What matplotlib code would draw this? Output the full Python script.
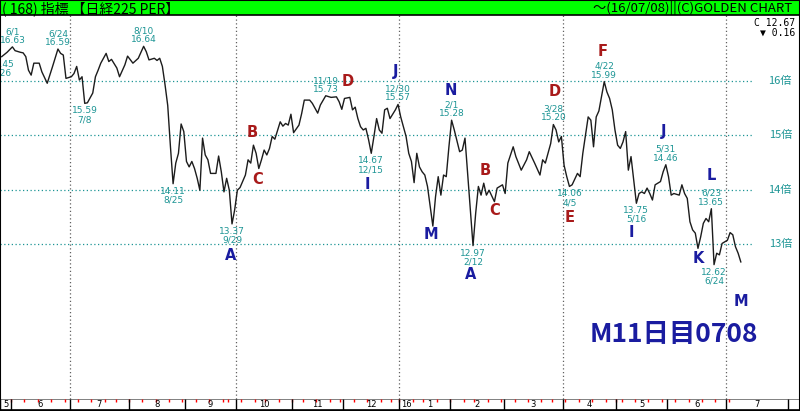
import matplotlib
matplotlib.use("Agg")
import matplotlib.pyplot as plt
from matplotlib import font_manager as fm
from matplotlib.patches import Rectangle
import pandas as pd


# Tokyo exchange calendar used for the session index
cal_start = "2015-05-26"
cal_end = "2016-08-31"
jp_holidays = [
    "2015-07-20", "2015-09-21", "2015-09-22", "2015-09-23", "2015-10-12",
    "2015-11-03", "2015-11-23", "2015-12-23", "2015-12-31", "2016-01-01",
    "2016-01-11", "2016-02-11", "2016-03-21", "2016-04-29", "2016-05-03",
    "2016-05-04", "2016-05-05", "2016-07-18", "2016-08-11",
]

# Nikkei 225 PER, session index (0 = 2015-05-26) and value
days = [
    0, 2, 4, 5, 7, 8, 9, 10, 11, 12, 14, 15, 17, 19, 21, 22, 23, 24,
    26, 27, 28, 29, 30, 31, 32, 34, 35, 36, 37, 39, 40, 41, 43, 44, 46, 47,
    49, 51, 53, 54, 55, 57, 58, 59, 60, 61, 62, 63, 64, 65, 66, 67, 68,
    69, 70, 71, 72, 73, 74, 75, 76, 77, 78, 80, 81, 82, 83, 84, 85, 86, 87,
    88, 89, 91, 92, 93, 94, 95, 96, 97, 98, 99, 100, 101, 102, 104, 105, 106, 107, 108,
    109, 111, 112, 113, 115, 116, 118, 119, 121, 123, 125, 126, 127,
    128, 130, 131, 132, 133, 134, 135, 136, 137, 138, 139, 140, 141, 142, 143, 144, 145, 147, 148,
    149, 150, 151, 152, 153, 154, 155, 156, 157, 158, 159, 160, 161, 162, 163, 164, 165, 166, 167,
    168, 169, 171, 172, 173, 174, 175, 176, 177, 178, 179, 180, 181, 182, 184, 185, 187,
    188, 189, 191, 192, 194, 196, 197, 199, 201, 202, 203, 205, 206, 207, 208, 209,
    210, 211, 212, 213, 215, 216, 217, 219, 220, 221, 222, 223, 225, 226, 227, 228, 229,
    230, 231, 232, 233, 234, 235, 236, 237, 238, 239, 240, 241, 242, 243, 244, 246, 247, 248,
    249, 250, 251, 253, 254, 255, 256, 257, 258, 259, 260, 261, 262, 263, 264, 265, 266,
    267, 268, 269, 270, 271, 272, 273, 274, 275, 276,
]
per = [
    16.45, 16.53, 16.63, 16.56, 16.53, 16.52, 16.45, 16.20, 16.11, 16.33, 16.33, 16.17, 15.96, 16.27, 16.59, 16.51, 16.48, 16.05,
    16.08, 16.14, 16.27, 16.02, 16.08, 15.59, 15.60, 15.78, 16.08, 16.20, 16.33, 16.51, 16.36, 16.40, 16.24, 16.08, 16.30, 16.46,
    16.33, 16.42, 16.64, 16.54, 16.39, 16.42, 16.38, 16.42, 16.27, 15.93, 15.55, 14.80, 14.11, 14.49, 14.67, 15.21, 15.07,
    14.52, 14.42, 14.52, 14.39, 14.21, 13.99, 14.95, 14.64, 14.55, 14.30, 14.30, 14.62, 14.33, 13.96, 14.21, 13.99, 13.37, 13.63,
    13.99, 14.04, 14.27, 14.55, 14.49, 14.82, 14.67, 14.39, 14.55, 14.73, 14.64, 14.76, 14.98, 14.93, 15.25, 15.17, 15.22, 15.19, 15.39,
    15.05, 15.19, 15.40, 15.65, 15.65, 15.59, 15.41, 15.56, 15.73, 15.70, 15.71, 15.62, 15.48,
    15.68, 15.70, 15.47, 15.52, 15.31, 15.16, 15.10, 15.13, 14.92, 14.67, 14.98, 15.31, 15.10, 15.04, 15.47, 15.50, 15.31, 15.47, 15.57,
    15.34, 15.16, 14.98, 14.67, 14.52, 14.13, 14.67, 14.42, 14.33, 14.27, 14.06, 13.69, 13.33, 13.87, 14.24, 13.90, 14.27, 14.24, 14.79,
    15.28, 15.10, 14.70, 14.73, 14.95, 14.30, 13.63, 12.97, 13.57, 14.06, 13.90, 14.12, 13.90, 13.99, 13.78, 14.03, 14.09,
    13.93, 14.49, 14.79, 14.61, 14.36, 14.55, 14.70, 14.49, 14.27, 14.55, 14.49, 14.85, 15.20, 15.10, 14.88, 14.98,
    14.45, 14.24, 14.06, 14.09, 14.30, 14.24, 14.67, 15.34, 15.28, 14.79, 15.34, 15.45, 15.99, 15.80, 15.68, 15.47, 15.10,
    14.82, 14.76, 14.88, 15.07, 14.36, 14.61, 14.18, 13.75, 13.93, 13.96, 13.93, 14.03, 13.93, 13.81, 14.09, 14.15, 14.33, 14.46,
    14.24, 13.90, 13.93, 13.90, 14.09, 13.93, 13.84, 13.41, 13.26, 13.20, 12.92, 13.13, 13.38, 13.47, 13.41, 13.65, 12.62,
    12.83, 12.80, 13.01, 13.04, 13.07, 13.21, 13.17, 12.95, 12.83, 12.67,
]

# labelled highs / lows
ext_dates = [
    "2015-05-26", "2015-06-01", "2015-06-24", "2015-07-08", "2015-08-10", "2015-08-25",
    "2015-09-29", "2015-11-19", "2015-12-15", "2015-12-30", "2016-02-01", "2016-02-12",
    "2016-03-28", "2016-04-05", "2016-04-22", "2016-05-16", "2016-05-31", "2016-06-23",
    "2016-06-24",
]
ext_vals = [16.45, 16.63, 16.59, 15.59, 16.64, 14.11, 13.37, 15.73, 14.67, 15.57,
            15.28, 12.97, 15.20, 14.06, 15.99, 13.75, 14.46, 13.65, 12.62]
ext_kind = ["lo", "hi", "hi", "lo", "hi", "lo", "lo", "hi", "lo", "hi",
            "hi", "lo", "hi", "lo", "hi", "lo", "hi", "hi", "lo"]

# wave count letters (session index, PER level, leg)
wave_letters = ["A", "B", "C", "D", "I", "J", "M", "N", "A", "B", "C",
                "D", "E", "F", "I", "J", "K", "L", "M"]
wave_days = [85.3, 93.4, 95.6, 129.1, 136.5, 147.0, 160.2, 167.8, 175.2, 180.5, 184.2,
             206.6, 211.9, 224.3, 235.3, 247.0, 260.1, 265.1, 276.0]
wave_vals = [12.78, 15.06, 14.18, 16.00, 14.09, 16.17, 13.17, 15.82, 12.43, 14.35, 13.61,
             15.80, 13.49, 16.54, 13.21, 15.07, 12.74, 14.27, 11.94]
wave_leg = ["down", "up", "up", "up", "down", "down", "down", "down", "down", "up", "up",
            "up", "up", "up", "down", "down", "down", "down", "down"]

per_levels = [13, 14, 15, 16]

TEAL = "#1d9595"
RED = "#a81a1a"
NAVY = "#1a1ca0"


def trading_calendar():
    bdays = pd.bdate_range(cal_start, cal_end)
    return bdays[~bdays.isin(pd.to_datetime(jp_holidays))]


def main():
    assert len(days) == len(per)
    cal = trading_calendar()
    pos = pd.Series(range(len(cal)), index=cal)
    month_first = pos.groupby([cal.year, cal.month]).min()
    iso = cal.isocalendar()
    week_first = pos[(iso["week"] != iso["week"].shift()).values]

    installed = {f.name for f in fm.fontManager.ttflist}
    if "Liberation Sans Narrow" in installed:
        small = ["Liberation Sans Narrow", "DejaVu Sans"]
        small_size = 8
    else:
        small = ["DejaVu Sans"]
        small_size = 6.5
    cjk = ["Noto Sans CJK JP", "DejaVu Sans"]

    W, H = 800, 411
    top_px, bot_px = 15, 398.5
    fig = plt.figure(figsize=(W / 100, H / 100), dpi=100)

    ax = fig.add_axes([0, (H - bot_px) / H, 1, (bot_px - top_px) / H])
    ax.set_axis_off()
    ax.set_xlim(-0.635, 298.1)
    ax.set_ylim(10.155, 17.217)

    # grid
    for lvl in per_levels:
        ax.axhline(lvl, xmin=0, xmax=0.94, color=TEAL, lw=0.9, ls=(0, (1, 2)))
        ax.text(0.99, lvl, f"{lvl}倍", transform=ax.get_yaxis_transform(),
                ha="right", va="center", fontsize=8, color=TEAL, family=cjk)
    for (yr, mo), first in month_first.items():
        if mo in (1, 4, 7, 10) and first <= days[-1]:
            ax.axvline(first - 0.5, color="#606060", lw=0.9, ls=(0, (1, 2)))

    ax.plot(days, per, color="#1c1c1c", lw=1.0)

    # high / low labels
    for d, v, k in zip(ext_dates, ext_vals, ext_kind):
        ts = pd.Timestamp(d)
        md = f"{ts.month}/{ts.day}"
        if k == "hi":
            ax.annotate(f"{md}\n{v:.2f}", (pos[ts], v), xytext=(0, 1.5),
                        textcoords="offset points", ha="center", va="bottom",
                        fontsize=small_size, color=TEAL, family=small, linespacing=0.95)
        else:
            ax.annotate(f"{v:.2f}\n{md}", (pos[ts], v), xytext=(0, -2.2),
                        textcoords="offset points", ha="center", va="top",
                        fontsize=small_size, color=TEAL, family=small, linespacing=0.95)

    for letter, d, v, leg in zip(wave_letters, wave_days, wave_vals, wave_leg):
        ax.text(d, v, letter, ha="center", va="center", fontsize=10.5,
                fontweight="bold", color=RED if leg == "up" else NAVY)

    last = per[-1]
    chg = per[-1] - per[-2]
    ax.text(0.994, 0.979, f"C {last:.2f}", transform=ax.transAxes, ha="right",
            va="center", fontsize=7, family=["DejaVu Sans Mono"])
    ax.text(0.994, 0.954, f"{'▼' if chg < 0 else '▲'} {abs(chg):.2f}",
            transform=ax.transAxes, ha="right", va="center", fontsize=7,
            family=["DejaVu Sans Mono", "DejaVu Sans"])

    ax.text(0.842, 0.166, "M11日目0708", transform=ax.transAxes, ha="center",
            va="center", fontsize=19, fontweight="bold", color=NAVY, family=cjk)

    # month strip
    sx = fig.add_axes([0, 0, 1, (H - bot_px) / H])
    sx.set_axis_off()
    sx.set_xlim(ax.get_xlim())
    sx.set_ylim(0, 1)
    sx.axhline(1.0, color="#808080", lw=1.4)
    sx.axhline(0.08, color="black", lw=1.2)
    right_edge = ax.get_xlim()[0] + 0.985 * (ax.get_xlim()[1] - ax.get_xlim()[0])
    for w in week_first:
        if w <= days[-1]:
            sx.vlines(w - 0.5, 0.75, 1.0, color="red", lw=1)
    bounds = [f - 0.5 for f in month_first if f <= days[-1]]
    months = [mo for (yr, mo), f in month_first.items() if f <= days[-1]]
    years = [yr for (yr, mo), f in month_first.items() if f <= days[-1]]
    edges = bounds + [right_edge]
    for b in edges:
        sx.vlines(b, 0.08, 1, color="black", lw=1)
    for i, mo in enumerate(months):
        centre = (edges[i] + edges[i + 1]) / 2
        if mo == 1:
            centre += 2
            sx.text(edges[i] + 0.8, 0.5, f"{years[i] % 100}", ha="left", va="center",
                    fontsize=small_size - 0.5, family=small)
        sx.text(centre, 0.5, str(mo), ha="center", va="center",
                fontsize=small_size - 0.5, family=small)

    # header bar
    hx = fig.add_axes([0, (H - top_px) / H, 1, top_px / H])
    hx.set_xticks([])
    hx.set_yticks([])
    hx.set_facecolor("#00ff00")
    for s in hx.spines.values():
        s.set_color("black")
        s.set_linewidth(1.2)
    hx.text(0.003, 0.45, "( 168) 指標 【日経225 PER】", transform=hx.transAxes,
            ha="left", va="center", fontsize=10, family=cjk)
    end_day = cal[days[-1]].strftime("%y/%m/%d")
    hx.text(0.99, 0.45, f"～({end_day})||(C)GOLDEN CHART", transform=hx.transAxes,
            ha="right", va="center", fontsize=9.5, family=cjk)

    fig.add_artist(Rectangle((0, 0), 1, 1, transform=fig.transFigure, fill=False,
                             ec="black", lw=1.5))

    fig.savefig("out.png", dpi=100)
    plt.close(fig)


if __name__ == "__main__":
    main()
